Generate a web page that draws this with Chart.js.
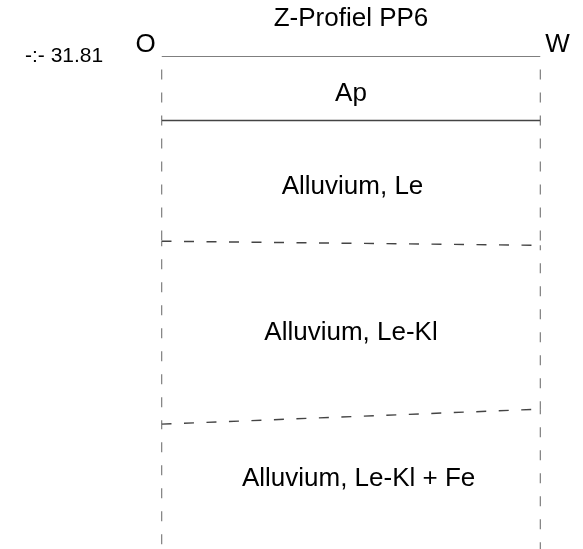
<!DOCTYPE html>
<html>
<head>
<meta charset="utf-8">
<script src="https://cdn.jsdelivr.net/npm/chart.js@4.4.0/dist/chart.umd.min.js"></script>
<style>
  body { margin: 0; background: #fff; }
  #c { display: block; }
</style>
</head>
<body>
<canvas id="c" width="583" height="549"></canvas>
<script>
// profile PP6, depth in cm (approx.), x in % between O and W
let chartTitle = 'Z-Profiel PP6';
let sideNames = ['O', 'W'];
let sideX = [0, 100];
let elevationText = '-:- 31.81';

// boundaries: surface, Ap base, Le base, Le-Kl base
let depthO = [0, 26, 75, 149.3];
let depthW = [0, 26, 76.7, 143.2];
let boundaryDashed = [false, false, true, true];
let bottomDepth = 200;

let layerNames = ['Ap', 'Alluvium, Le', 'Alluvium, Le-Kl', 'Alluvium, Le-Kl + Fe'];
let layerLabelDepth = [15, 52.8, 112.2, 171.5];
let layerLabelX = [50, 50.4, 50, 52];

let FONT = '"Liberation Sans", Arial, sans-serif';

let datasets = [];

// horizontal boundaries
for (let i = 0; i < depthO.length; i++) {
    datasets.push({
        data: [{ x: sideX[0], y: depthO[i] }, { x: sideX[1], y: depthW[i] }],
        borderColor: i == 0 ? '#000' : '#444',
        borderWidth: i == 0 ? 1 : 1.4,
        borderDash: boundaryDashed[i] ? [10, 12.5] : [],
        pointRadius: 0,
        tension: 0
    });
}

// side verticals, one dashed piece per layer
for (let s = 0; s < sideX.length; s++) {
    let d = s == 0 ? depthO : depthW;
    for (let i = 0; i < d.length; i++) {
        let bottom = i + 1 < d.length ? d[i + 1] : bottomDepth;
        datasets.push({
            data: [{ x: sideX[s], y: d[i] }, { x: sideX[s], y: bottom }],
            borderColor: '#111',
            borderWidth: 1.3,
            borderDash: [10, 13],
            borderDashOffset: i == 0 ? 10 : 5,
            pointRadius: 0
        });
    }
}

let textPlugin = {
    id: 'profileText',
    afterDraw(chart) {
        let ctx = chart.ctx;
        let xs = chart.scales.x, ys = chart.scales.y;
        ctx.save();
        ctx.fillStyle = '#000';
        ctx.textAlign = 'center';
        ctx.textBaseline = 'middle';

        ctx.font = '26px ' + FONT;
        ctx.fillText(chartTitle, xs.getPixelForValue(50), 19);

        for (let i = 0; i < layerNames.length; i++) {
            ctx.fillText(layerNames[i], xs.getPixelForValue(layerLabelX[i]), ys.getPixelForValue(layerLabelDepth[i]));
        }

        ctx.fillText(sideNames[0], xs.getPixelForValue(sideX[0]) - 16, ys.getPixelForValue(0) - 12);
        ctx.fillText(sideNames[1], xs.getPixelForValue(sideX[1]) + 17, ys.getPixelForValue(0) - 12);

        ctx.font = '21px ' + FONT;
        ctx.textAlign = 'left';
        ctx.fillText(elevationText, 25, ys.getPixelForValue(0));
        ctx.restore();
    }
};

let ctx = document.querySelector('#c').getContext('2d');
let myChart = new Chart(ctx, {
    type: 'scatter',
    data: { datasets: datasets },
    options: {
        responsive: false,
        animation: false,
        devicePixelRatio: 1,
        showLine: true,
        layout: { padding: { left: 161.5, right: 42.5, top: 56.5, bottom: 0 } },
        plugins: { legend: { display: false }, tooltip: { enabled: false }, title: { display: false } },
        scales: {
            x: { type: 'linear', min: 0, max: 100, display: false },
            y: { type: 'linear', min: 0, max: bottomDepth, reverse: true, display: false }
        }
    },
    plugins: [textPlugin]
});
</script>
</body>
</html>
